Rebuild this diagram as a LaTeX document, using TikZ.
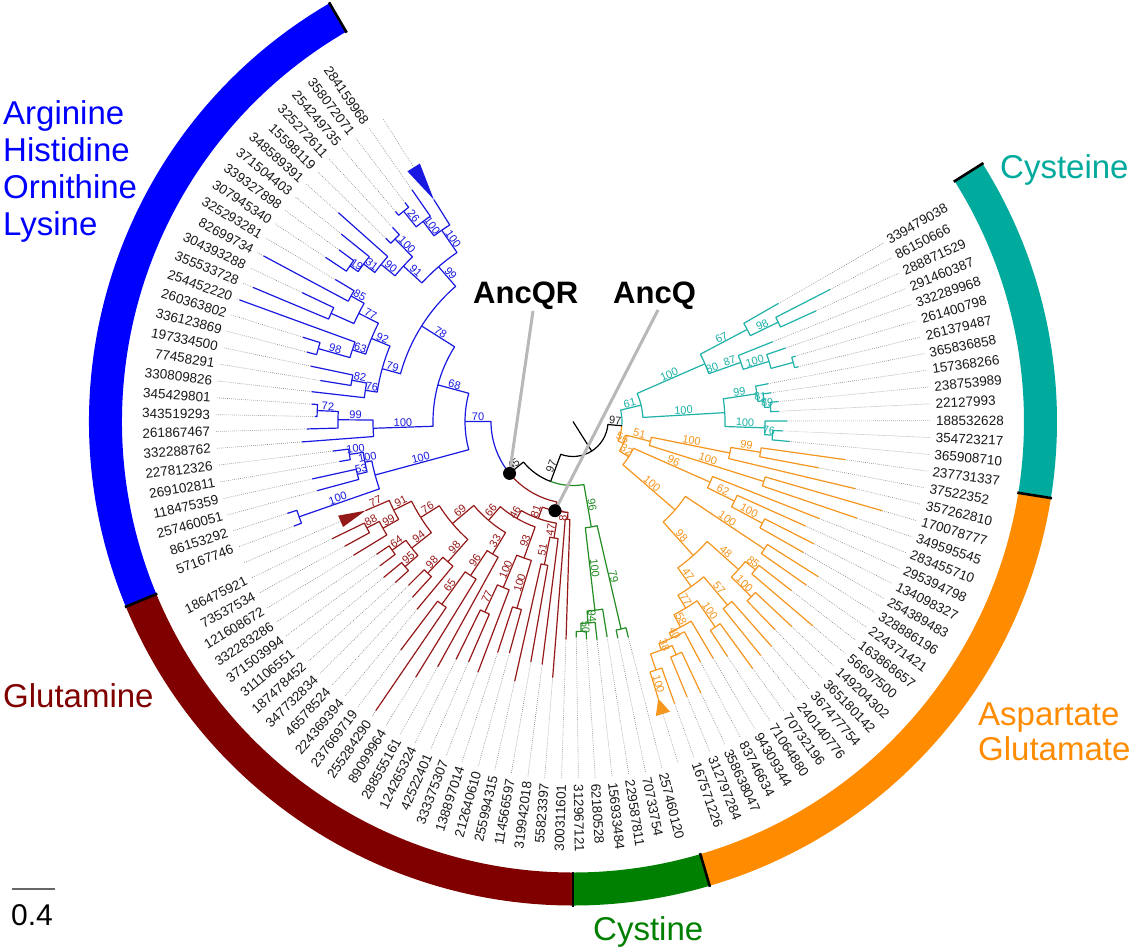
\documentclass[tikz,border=0pt]{standalone}
\usepackage{fontspec}
\setmainfont{Liberation Sans}
\definecolor{ringB}{RGB}{0,0,255}
\definecolor{ringR}{RGB}{128,0,0}
\definecolor{ringG}{RGB}{0,128,0}
\definecolor{ringO}{RGB}{255,140,0}
\definecolor{ringT}{RGB}{0,170,157}
\definecolor{lnB}{RGB}{25,25,225}
\definecolor{lnR}{RGB}{150,25,25}
\definecolor{lnG}{RGB}{35,140,35}
\definecolor{lnO}{RGB}{245,150,30}
\definecolor{lnT}{RGB}{30,178,168}
\definecolor{labc}{RGB}{25,25,25}
\newcommand\bsf{\fontsize{11}{12}\selectfont}
\newcommand\bigf{\fontsize{33}{37}\selectfont}
\tikzset{
  blT/.style={draw=lnB, line width=1.2pt},
  rdT/.style={draw=lnR, line width=1.2pt},
  grT/.style={draw=lnG, line width=1.2pt},
  orT/.style={draw=lnO, line width=1.2pt},
  tlT/.style={draw=lnT, line width=1.2pt},
  bkT/.style={draw=black, line width=1.2pt},
  leafdot/.style={draw=black!50, line width=0.6pt, dash pattern=on 0.7pt off 1.3pt},
  leaflab/.style={font=\fontsize{13.5}{15}\selectfont, text=labc, inner sep=0pt},
}
% tree macros
\newcommand\Nd[6]{%
  \edef\tCA{\csname TA#2\endcsname}\edef\tCB{\csname TA#3\endcsname}%
  \edef\tRA{\csname TR#2\endcsname}\edef\tRB{\csname TR#3\endcsname}%
  \pgfmathsetmacro\tM{(\tCA+\tCB)/2}%
  \expandafter\xdef\csname TA#1\endcsname{\tM}%
  \expandafter\xdef\csname TR#1\endcsname{#4}%
  \expandafter\xdef\csname TP#2\endcsname{#4}%
  \expandafter\xdef\csname TP#3\endcsname{#4}%
  \draw[#5] (\tCA:\tRA pt) -- (\tCA:#4pt) arc[start angle=\tCA, end angle=\tM, radius=#4pt];%
  \draw[#6] (\tM:#4pt) arc[start angle=\tM, end angle=\tCB, radius=#4pt] -- (\tCB:\tRB pt);%
  \coordinate (#1) at (\tM:#4pt);%
}
\newcommand\Nn[4]{\Nd{#1}{#2}{#3}{#4}{trl}{trl}}
\newcommand\Lf[3]{%
  \pgfmathsetmacro\tA{124.8+2.705*(#1)}%
  \expandafter\xdef\csname TAL#1\endcsname{\tA}%
  \expandafter\xdef\csname TRL#1\endcsname{#2}%
  \draw[leafdot] (\tA:#2pt) -- (\tA:358pt);%
  \pgfmathtruncatemacro\tSide{cos(\tA)>=0}%
  \ifnum\tSide=1
    \node[leaflab, rotate=\tA, anchor=west] (lab#1) at (\tA:363pt) {#3};%
  \else
    \pgfmathsetmacro\tRot{\tA-180}%
    \node[leaflab, rotate=\tRot, anchor=east] (lab#1) at (\tA:363pt) {#3};%
  \fi
}
\newcommand\Tri[4]{%
  \pgfmathsetmacro\tA{124.8+2.705*(#2)}%
  \expandafter\xdef\csname TA#1\endcsname{\tA}%
  \expandafter\xdef\csname TR#1\endcsname{#3}%
  \pgfmathsetmacro\tAp{\tA+1.4}\pgfmathsetmacro\tAm{\tA-1.4}%
  \fill[trif] (\tA:#3pt) -- (\tAp:#4pt) -- (\tAm:#4pt) -- cycle;%
  \draw[leafdot] (\tA:#4pt) -- (\tA:358pt);%
}
\newcommand\Bs[3][0.5]{%
  \edef\tA{\csname TA#2\endcsname}\edef\tR{\csname TR#2\endcsname}\edef\tP{\csname TP#2\endcsname}%
  \pgfmathsetmacro\tM{\tP+#1*(\tR-\tP)}%
  \pgfmathtruncatemacro\tSide{cos(\tA)>=0}%
  \ifnum\tSide=1 \pgfmathsetmacro\tRot{\tA}\else\pgfmathsetmacro\tRot{\tA-180}\fi
  \node[bsl, rotate=\tRot, anchor=south] (bs#2#3) at (\tA:\tM pt) {#3};%
}
\newcommand\RingSeg[3]{%
  \fill[#3] (#1:451pt) arc[start angle=#1, end angle=#2, radius=451pt] -- (#2:484pt) arc[start angle=#2, end angle=#1, radius=484pt] -- cycle;%
}
\begin{document}
\begin{tikzpicture}[x=1pt,y=1pt,line join=round]
\useasboundingbox (0,0) rectangle (1137,-950);
\fill[white] (0,0) rectangle (1137,-950);
\begin{scope}[shift={(573,-421.5)}]
  % ring
  \RingSeg{120.2}{202.5}{ringB}
  \RingSeg{202.5}{270}{ringR}
  \RingSeg{270}{286.4}{ringG}
  \RingSeg{286.4}{350.9}{ringO}
  \RingSeg{350.9}{392.2}{ringT}
  \foreach \s in {120.2,202.5,270,286.4,350.9,392.2}
    \draw[black, line width=2.6pt] (\s:450pt) -- (\s:485pt);
  % ---------------- blue
  \begin{scope}[trl/.style={blT}, bsl/.style={text=lnB, font=\bsf, inner sep=0.6pt}, trif/.style={fill=lnB}]
  \Tri{bT}{-1}{262}{300}
  \Lf{0}{282}{284159968}
  \Lf{1}{276}{358072071}
  \Lf{2}{275}{254249735}
  \Lf{3}{265}{325272611}
  \Lf{4}{262}{15598119}
  \Lf{5}{314}{348589391}
  \Lf{6}{298}{371504403}
  \Lf{7}{290}{339327898}
  \Lf{8}{297}{307945340}
  \Lf{9}{277}{325293281}
  \Lf{10}{351}{82699734}
  \Lf{11}{300}{304393288}
  \Lf{12}{347}{355533728}
  \Lf{13}{355}{254452220}
  \Lf{14}{283}{260363802}
  \Lf{15}{275}{336123869}
  \Lf{16}{268}{197334500}
  \Lf{17}{256}{77458291}
  \Lf{18}{263}{330809826}
  \Lf{19}{262}{345429801}
  \Lf{20}{258}{343519293}
  \Lf{21}{266}{261867467}
  \Lf{22}{272}{332288762}
  \Lf{23}{242}{227812326}
  \Lf{24}{237}{269102811}
  \Lf{25}{267}{118475359}
  \Lf{26}{265}{257460051}
  \Lf{27}{300}{86153292}
  \Lf{28}{298}{57167746}
  \Nn{bT2}{L1}{L2}{270}
  \Nn{bT1}{L0}{bT2}{250}
  \Nn{bTA}{bT}{bT1}{232}
  \Nn{bU1}{L3}{L4}{255}
  \Nn{bU4}{L7}{L8}{272}
  \Nn{bU3}{L6}{bU4}{262}
  \Nn{bU2}{L5}{bU3}{248}
  \Nn{b91}{bU1}{bU2}{230}
  \Nn{b99u}{bTA}{b91}{205}
  \Nn{b85}{L9}{L10}{255}
  \Nn{bM3}{L11}{L12}{265}
  \Nn{b77}{b85}{bM3}{240}
  \Nn{b98}{L14}{L15}{265}
  \Nn{b63}{L13}{b98}{232}
  \Nn{bM1}{b77}{b63}{218}
  \Nn{b82}{L16}{L17}{225}
  \Nn{bM2}{b82}{L18}{210}
  \Nn{bMid}{bM1}{bM2}{198}
  \Nn{b78}{b99u}{bMid}{179}
  \Nn{b72}{L19}{L20}{256}
  \Nn{b99a}{b72}{L21}{235}
  \Nn{b100m}{b99a}{L22}{200}
  \Nn{b68}{b78}{b100m}{140}
  \Nn{b100c}{L23}{L24}{226}
  \Nn{b53}{L25}{L26}{222}
  \Nn{bX}{b100c}{b53}{212}
  \Nn{b100l}{L27}{L28}{290}
  \Nn{b100lo}{bX}{b100l}{205}
  \Nn{b70}{b68}{b100lo}{108}
  \Bs{bTA}{100}\Bs{bT1}{100}\Bs{bT2}{26}\Bs{bU1}{100}\Bs{bU3}{31}\Bs{bU4}{19}
  \Bs{bU2}{90}\Bs{b91}{91}\Bs{b99u}{99}\Bs{b85}{85}\Bs{b77}{77}\Bs{b98}{98}
  \Bs{b63}{63}\Bs{bM1}{92}\Bs{b82}{82}\Bs{bM2}{76}\Bs{bMid}{79}\Bs{b78}{78}
  \Bs{b72}{72}\Bs{b99a}{99}\Bs{b100m}{100}\Bs{b68}{68}\Bs{b100c}{100}\Bs{b53}{53}
  \Bs{bX}{100}\Bs{b100l}{100}\Bs{b100lo}{100}
  \end{scope}
  % ---------------- red
  \begin{scope}[trl/.style={rdT}, bsl/.style={text=lnR, font=\bsf, inner sep=0.6pt}, trif/.style={fill=lnR}]
  \Tri{rT}{29}{226}{253}
  \Lf{30}{268}{186475921}
  \Lf{31}{260}{73537534}
  \Lf{32}{257}{121608672}
  \Lf{33}{237}{332283286}
  \Lf{34}{241}{371503994}
  \Lf{35}{245}{311106551}
  \Lf{36}{240}{187478452}
  \Lf{37}{232}{347732834}
  \Lf{38}{238}{46578524}
  \Lf{39}{244}{224369394}
  \Lf{40}{286}{237669719}
  \Lf{41}{350}{255284290}
  \Lf{42}{300}{89099964}
  \Lf{43}{280}{288555161}
  \Lf{44}{265}{124265324}
  \Lf{45}{262}{42522401}
  \Lf{46}{268}{333375307}
  \Lf{47}{243}{138897014}
  \Lf{48}{240}{212640610}
  \Lf{49}{266}{255994315}
  \Lf{50}{244}{114566597}
  \Lf{51}{245}{319942018}
  \Lf{52}{257}{55823397}
  \Lf{53}{218}{300311601}
  \Nn{r88}{L30}{L31}{232}
  \Nn{r99}{r88}{L32}{218}
  \Nn{r91}{rT}{r99}{200}
  \Nn{r64}{L33}{L34}{222}
  \Nn{r95}{L35}{L36}{222}
  \Nn{r94}{r64}{r95}{205}
  \Nn{r76}{r91}{r94}{180}
  \Nn{r98b}{L37}{L38}{210}
  \Nn{r98a}{r98b}{L39}{188}
  \Nn{r69}{r76}{r98a}{158}
  \Nn{r65}{L40}{L41}{225}
  \Nn{r96}{r65}{L42}{185}
  \Nn{r33}{r96}{L43}{155}
  \Nn{r66}{r69}{r33}{130}
  \Nn{r77b}{L44}{L45}{210}
  \Nn{r100a}{r77b}{L46}{180}
  \Nn{r100b}{L47}{L48}{195}
  \Nn{r93}{r100a}{r100b}{145}
  \Nn{r46}{r66}{r93}{112}
  \Nn{r51n}{L49}{L50}{146}
  \Nn{r22}{r51n}{L51}{118}
  \Nn{r81}{r46}{r22}{103}
  \Nn{r87}{L52}{L53}{98}
  \Nn{AncQ}{r81}{r87}{91}
  \Bs{r88}{88}\Bs{r99}{99}\Bs{rT}{77}\Bs{r91}{91}\Bs{r64}{64}\Bs{r95}{95}
  \Bs{r94}{94}\Bs{r76}{76}\Bs{r98b}{98}\Bs{r98a}{98}\Bs{r69}{69}\Bs{r65}{65}
  \Bs{r96}{96}\Bs{r33}{33}\Bs{r66}{66}\Bs{r77b}{77}\Bs{r100a}{100}\Bs{r100b}{100}
  \Bs{r93}{93}\Bs{r46}{46}\Bs{r51n}{51}\Bs{r22}{47}\Bs{r81}{81}\Bs{r87}{87}
  \end{scope}
  % ---------------- green
  \begin{scope}[trl/.style={grT}, bsl/.style={text=lnG, font=\bsf, inner sep=0.6pt}]
  \Lf{54}{216}{312967121}
  \Lf{55}{218}{62180528}
  \Lf{56}{220}{156933484}
  \Lf{57}{218}{229587811}
  \Lf{58}{221}{70733754}
  \Lf{59}{223}{257460120}
  \Nn{g50}{L54}{L55}{210}
  \Nn{g94}{g50}{L56}{202}
  \Nn{g100}{g94}{L57}{190}
  \Nn{g79}{L58}{L59}{213}
  \Nn{g96}{g100}{g79}{107}
  \Bs{g50}{50}\Bs{g94}{94}\Bs{g100}{100}\Bs{g79}{79}
  \end{scope}
  % ---------------- teal
  \begin{scope}[trl/.style={tlT}, bsl/.style={text=lnT, font=\bsf, inner sep=0.6pt}]
  \Lf{85}{217}{365908710}
  \Lf{86}{210}{354723217}
  \Lf{87}{214}{188532628}
  \Lf{88}{206}{22127993}
  \Lf{89}{206}{238753989}
  \Lf{90}{200}{157368266}
  \Lf{91}{199}{365836858}
  \Lf{92}{232}{261379487}
  \Lf{93}{232}{261400798}
  \Lf{94}{225}{332289968}
  \Lf{95}{215}{291460387}
  \Lf{96}{267}{288871529}
  \Lf{97}{289}{86150666}
  \Lf{98}{237}{339479038}
  \Nn{t98}{L97}{L96}{228}
  \Nn{t67}{L98}{t98}{197}
  \Nn{tNt}{L93}{L92}{228}
  \Nn{t100c}{L94}{tNt}{205}
  \Nn{t87}{L95}{t100c}{178}
  \Nn{t80}{t67}{t87}{144}
  \Nn{t89}{L89}{L88}{198}
  \Nn{t81}{L90}{t89}{192}
  \Nn{t99}{L91}{t81}{186}
  \Nn{t76}{L86}{L85}{200}
  \Nn{t100d}{L87}{t76}{192}
  \Nn{t100b}{t99}{t100d}{152}
  \Nn{t61}{t80}{t100b}{70}
  \Bs{t98}{98}\Bs{t67}{67}\Bs{t100c}{100}\Bs[0.7]{t87}{87}\Bs[0.15]{t87}{80}
  \Bs{t80}{100}\Bs{t89}{89}\Bs{t81}{81}\Bs{t99}{99}\Bs{t76}{76}\Bs{t100d}{100}
  \Bs{t100b}{100}
  \end{scope}
  % ---------------- orange
  \begin{scope}[trl/.style={orT}, bsl/.style={text=lnO, font=\bsf, inner sep=0.6pt}, trif/.style={fill=lnO}]
  \Tri{oT}{60}{290}{306}
  \Lf{61}{300}{167571226}
  \Lf{62}{298}{312797284}
  \Lf{63}{300}{358638047}
  \Lf{64}{272}{83746634}
  \Lf{65}{275}{94309344}
  \Lf{66}{281}{71064880}
  \Lf{67}{305}{70732196}
  \Lf{68}{300}{240140776}
  \Lf{69}{300}{367477754}
  \Lf{70}{290}{365180142}
  \Lf{71}{300}{149204302}
  \Lf{72}{315}{56697500}
  \Lf{73}{276}{163868657}
  \Lf{74}{285}{224371421}
  \Lf{75}{290}{328886196}
  \Lf{76}{265}{254389483}
  \Lf{77}{270}{134098327}
  \Lf{78}{255}{295394798}
  \Lf{79}{265}{283455710}
  \Lf{80}{300}{349595545}
  \Lf{81}{322}{170078777}
  \Lf{82}{290}{357262810}
  \Lf{83}{250}{37522352}
  \Lf{84}{275}{237731337}
  \Nn{oO99}{L84}{L83}{190}
  \Nn{oO100t}{oO99}{L82}{160}
  \Nn{oO100v}{L81}{L80}{200}
  \Nn{oO51}{oO100t}{oO100v}{80}
  \Nn{oO100n}{L77}{L76}{215}
  \Nn{oO62}{L78}{oO100n}{180}
  \Nn{oO96}{L79}{oO62}{150}
  \Nn{oO100q}{L75}{L74}{230}
  \Nn{oO85}{L73}{L72}{235}
  \Nn{oO100w}{L71}{L70}{250}
  \Nn{oO48}{oO85}{oO100w}{222}
  \Nn{oO57}{L69}{L68}{240}
  \Nn{oO100x}{L67}{L66}{250}
  \Nn{oOa}{L63}{L62}{255}
  \Nn{oO100y}{L61}{oT}{262}
  \Nn{oO10}{oOa}{oO100y}{245}
  \Nn{oO40}{L64}{oO10}{238}
  \Nn{oO58}{L65}{oO40}{232}
  \Nn{oO77}{oO100x}{oO58}{218}
  \Nn{oO47}{oO57}{oO77}{203}
  \Nn{oO98}{oO47}{oO48}{180}
  \Nn{oO100L}{oO98}{oO100q}{135}
  \Nn{oO32}{oO96}{oO100L}{66}
  \Nn{oO56}{oO51}{oO32}{55}
  \Bs{oO99}{99}\Bs{oO100t}{100}\Bs{oO100v}{100}\Bs{oO51}{51}\Bs{oO100n}{100}
  \Bs{oO62}{62}\Bs{oO96}{96}\Bs{oO100q}{100}\Bs{oO85}{85}\Bs{oO100w}{100}
  \Bs{oO48}{48}\Bs{oO57}{57}\Bs{oO100x}{100}\Bs{oT}{100}\Bs{oO10}{38}
  \Bs{oO40}{40}\Bs{oO58}{58}\Bs{oO77}{77}\Bs{oO47}{47}\Bs{oO98}{98}
  \Bs{oO100L}{100}\Bs{oO32}{32}
  \end{scope}
  % ---------------- backbone
  \begin{scope}[bsl/.style={text=black!85, font=\bsf, inner sep=0.6pt}]
  \Nd{N97r}{t61}{oO56}{49}{tlT}{orT}
  \Nd{AncQR}{b70}{AncQ}{82}{blT}{rdT}
  \Nd{N97b}{AncQR}{g96}{64}{bkT}{grT}
  \Nd{Root}{N97b}{N97r}{35}{bkT}{bkT}
  \edef\tA{\csname TARoot\endcsname}
  \coordinate (ctr) at (0,0);
  \draw[bkT] (ctr) -- (\tA:35pt);
  \Bs{N97r}{97}\Bs{N97b}{97}\Bs{AncQR}{45}
  \end{scope}
  \begin{scope}[bsl/.style={text=lnB, font=\bsf, inner sep=0.6pt}]\Bs{b70}{70}\end{scope}
  \begin{scope}[bsl/.style={text=lnG, font=\bsf, inner sep=0.6pt}]\Bs{g96}{96}\end{scope}
  \begin{scope}[bsl/.style={text=lnT, font=\bsf, inner sep=0.6pt}]\Bs{t61}{61}\end{scope}
  \begin{scope}[bsl/.style={text=lnO, font=\bsf, inner sep=0.6pt}]\Bs{oO56}{56}\end{scope}
\end{scope}
% pointers and ancestral labels
\node[font=\bfseries\fontsize{31}{35}\selectfont, anchor=base west, inner sep=0pt] (tQR) at (473,-303) {AncQR};
\node[font=\bfseries\fontsize{31}{35}\selectfont, anchor=base west, inner sep=0pt] (tQ) at (613,-303) {AncQ};
\coordinate (pQR) at (533,-311);
\coordinate (pQ) at (658,-310);
\draw[black!28, line width=3pt] (pQR) -- (AncQR);
\draw[black!28, line width=3pt] (pQ) -- (AncQ);
\fill[black] (AncQR) circle[radius=6.5pt];
\fill[black] (AncQ) circle[radius=6.5pt];
% clade names
\node[font=\bigf, text=ringB, anchor=base west, inner sep=0pt] (tArg) at (3,-124) {Arginine};
\node[font=\bigf, text=ringB, anchor=base west, inner sep=0pt] (tHis) at (3,-161) {Histidine};
\node[font=\bigf, text=ringB, anchor=base west, inner sep=0pt] (tOrn) at (3,-198) {Ornithine};
\node[font=\bigf, text=ringB, anchor=base west, inner sep=0pt] (tLys) at (3,-235) {Lysine};
\node[font=\bigf, text=ringR, anchor=base west, inner sep=0pt] (tGln) at (3,-707) {Glutamine};
\node[font=\bigf, text=ringG, anchor=base west, inner sep=0pt] (tCys2) at (593,-940) {Cystine};
\node[font=\bigf, text=ringO, anchor=base west, inner sep=0pt] (tAsp) at (978,-725) {Aspartate};
\node[font=\bigf, text=ringO, anchor=base west, inner sep=0pt] (tGlu) at (978,-760) {Glutamate};
\node[font=\bigf, text=ringT, anchor=base west, inner sep=0pt] (tCys) at (1000,-178) {Cysteine};
% scale bar
\coordinate (sb1) at (12,-889);
\coordinate (sb2) at (55,-889);
\draw[black!60, line width=1.5pt] (sb1) -- (sb2);
\node[font=\fontsize{30}{34}\selectfont, anchor=base west, inner sep=0pt] (tsb) at (11,-925) {0.4};
\end{tikzpicture}
\end{document}
